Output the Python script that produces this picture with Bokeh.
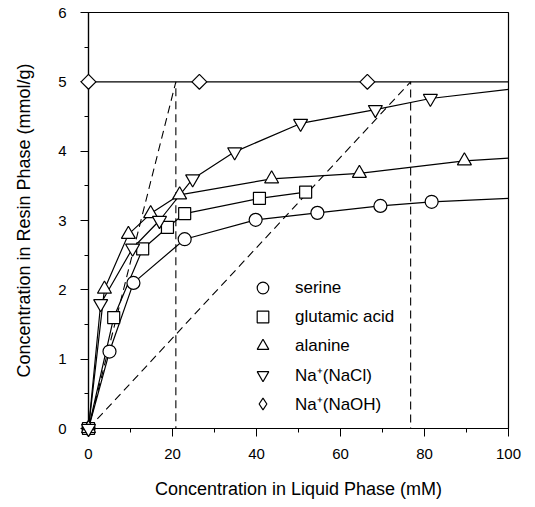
import math
from bokeh.plotting import figure
from bokeh.models import Range1d, FixedTicker, Legend, LegendItem
from bokeh.embed import file_html
from bokeh.resources import INLINE

# ---- data ----
serine_x = [0, 5.0, 10.7, 22.9, 39.8, 54.5, 69.5, 81.7]
serine_y = [0, 1.11, 2.10, 2.73, 3.01, 3.11, 3.21, 3.27]
serine_end = (100, 3.32)

glu_x = [0, 6.0, 12.9, 18.8, 22.9, 40.7, 51.7]
glu_y = [0, 1.60, 2.59, 2.90, 3.10, 3.32, 3.41]

ala_x = [0, 3.8, 9.5, 14.8, 21.7, 43.6, 64.5, 89.5]
ala_y = [0, 2.01, 2.80, 3.10, 3.37, 3.60, 3.68, 3.86]
ala_end = (100, 3.90)

nacl_x = [0, 2.9, 10.5, 16.9, 24.8, 34.8, 50.5, 68.3, 81.4]
nacl_y = [0, 1.80, 2.60, 3.00, 3.60, 3.99, 4.40, 4.60, 4.76]
nacl_end = (100, 4.89)

naoh_x = [0, 26.4, 66.4]
naoh_y = [5, 5, 5]
naoh_line_x = [0, 100]
naoh_line_y = [5, 5]

# operating lines (dashed)
op1_x = [0, 20.8, 20.8]
op1_y = [0, 5, 0]
op2_x = [0, 76.7, 76.7]
op2_y = [0, 5, 0]

x_ticks = [0, 20, 40, 60, 80, 100]
x_minor = [10, 30, 50, 70, 90]
y_ticks = [0, 1, 2, 3, 4, 5, 6]
y_minor = [0.5, 1.5, 2.5, 3.5, 4.5, 5.5]

FONT = "Liberation Sans"

p = figure(width=535, height=507, output_backend="svg", toolbar_location=None,
           x_range=Range1d(0, 100), y_range=Range1d(0, 6),
           min_border_left=88, min_border_right=27, min_border_top=12, min_border_bottom=79)

p.xgrid.visible = False
p.ygrid.visible = False
p.outline_line_color = "black"
p.outline_line_width = 1.2
p.background_fill_color = "white"
p.border_fill_color = "white"

p.xaxis.ticker = FixedTicker(ticks=x_ticks, minor_ticks=x_minor)
p.yaxis.ticker = FixedTicker(ticks=y_ticks, minor_ticks=y_minor)
for ax in (p.xaxis[0], p.yaxis[0]):
    ax.axis_line_color = "black"
    ax.axis_line_width = 1.2
    ax.major_tick_line_color = "black"
    ax.minor_tick_line_color = "black"
    ax.major_tick_in = 0
    ax.minor_tick_in = 0
    ax.major_tick_out = 8
    ax.minor_tick_out = 4
    ax.major_label_text_font = FONT
    ax.major_label_text_font_size = "15px"
    ax.major_label_text_color = "black"
    ax.axis_label_text_font = FONT
    ax.axis_label_text_font_size = "18px"
    ax.axis_label_text_font_style = "normal"
    ax.axis_label_text_color = "black"

p.xaxis.axis_label = "Concentration in Liquid Phase (mM)"
p.yaxis.axis_label = "Concentration in Resin Phase (mmol/g)"
p.xaxis.major_label_standoff = 12
p.xaxis.axis_label_standoff = 17
p.yaxis.major_label_standoff = 14
p.yaxis.axis_label_standoff = 21

# dashed operating lines
p.line(op1_x, op1_y, line_color="black", line_width=1.1, line_dash="8 5")
p.line(op2_x, op2_y, line_color="black", line_width=1.1, line_dash="8 5")

LW = 1.2
p.line(naoh_line_x, naoh_line_y, line_color="black", line_width=LW)
p.line(serine_x + [serine_end[0]], serine_y + [serine_end[1]], line_color="black", line_width=LW)
p.line(glu_x, glu_y, line_color="black", line_width=LW)
p.line(ala_x + [ala_end[0]], ala_y + [ala_end[1]], line_color="black", line_width=LW)
p.line(nacl_x + [nacl_end[0]], nacl_y + [nacl_end[1]], line_color="black", line_width=LW)

mk = dict(fill_color="white", line_color="black", line_width=1.2, level="overlay")
r_naoh = p.scatter(naoh_x, naoh_y, marker="square", size=10.5, angle=math.pi / 4, **mk)
r_ser = p.scatter(serine_x, serine_y, marker="circle", size=13, **mk)
r_glu = p.scatter(glu_x, glu_y, marker="square", size=12, **mk)
r_ala = p.scatter(ala_x, ala_y, marker="triangle", size=14, **mk)
r_nacl = p.scatter(nacl_x, nacl_y, marker="inverted_triangle", size=14, **mk)
# legend-only glyph for the diamond (legend ignores marker angle); NaN = not drawn in plot
r_naoh_leg = p.scatter([float("nan")], [float("nan")], marker="diamond", size=16,
                       fill_color="white", line_color="black", line_width=1.2)

legend = Legend(items=[
    LegendItem(label="serine", renderers=[r_ser]),
    LegendItem(label="glutamic acid", renderers=[r_glu]),
    LegendItem(label="alanine", renderers=[r_ala]),
    LegendItem(label="Na\u207a(NaCl)", renderers=[r_nacl]),
    LegendItem(label="Na\u207a(NaOH)", renderers=[r_naoh_leg]),
], location=(160, 10))
legend.border_line_color = None
legend.background_fill_alpha = 0
legend.padding = 0
legend.margin = 0
legend.spacing = 0
legend.glyph_width = 29
legend.glyph_height = 29
legend.label_height = 20
legend.label_standoff = 18
legend.label_text_font = FONT
legend.label_text_font_size = "17px"
legend.label_text_color = "black"
p.add_layout(legend, "center")

open("out.html", "w").write(file_html(p, INLINE))
